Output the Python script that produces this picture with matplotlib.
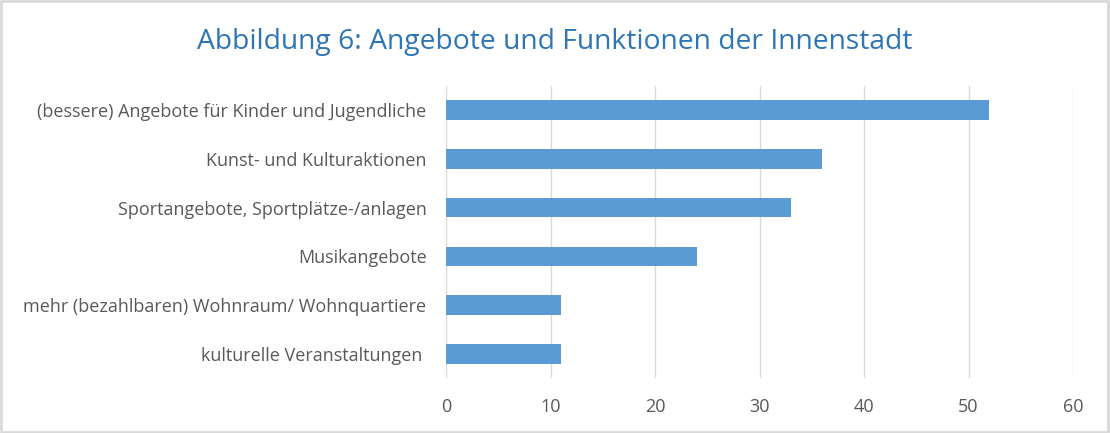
import matplotlib.pyplot as plt
from matplotlib.patches import Rectangle

plt.rcParams['font.family'] = ['Open Sans', 'DejaVu Sans']

# Data
categories = [
    '(bessere) Angebote für Kinder und Jugendliche',
    'Kunst- und Kulturaktionen',
    'Sportangebote, Sportplätze-/anlagen',
    'Musikangebote',
    'mehr (bezahlbaren) Wohnraum/ Wohnquartiere',
    'kulturelle Veranstaltungen ',
]
values = [52, 36, 33, 24, 11, 11]
x_ticks = [0, 10, 20, 30, 40, 50, 60]

fig = plt.figure(figsize=(11.10, 4.33), dpi=100)
ax = fig.add_axes([0.4018, 0.126, 0.5649, 0.6765])

y_pos = list(range(len(categories)))
ax.barh(y_pos, values, height=0.4, color='#5B9BD5', zorder=3)
ax.set_yticks(y_pos)
ax.set_yticklabels(categories, fontsize=13, color='#595959')
ax.set_ylim(len(categories) - 0.5, -0.5)

ax.set_xlim(0, 60)
ax.set_xticks(x_ticks)
ax.set_xticklabels([str(t) for t in x_ticks], fontsize=13, color='#595959')
ax.tick_params(axis='both', length=0)
ax.tick_params(axis='y', pad=14)
ax.tick_params(axis='x', pad=14)
ax.grid(axis='x', color='#D9D9D9', linewidth=1, zorder=0)
for s in ax.spines.values():
    s.set_visible(False)

fig.text(0.5, 0.902, 'Abbildung 6: Angebote und Funktionen der Innenstadt',
         ha='center', va='center', fontsize=20.3, color='#2E75B6')

# light border around the chart area
fig.patches.append(Rectangle((0.001, 0.002), 0.997, 0.995, transform=fig.transFigure,
                             fill=False, edgecolor='#D9D9D9', linewidth=2))

plt.savefig('out.png', dpi=100)
plt.close()
